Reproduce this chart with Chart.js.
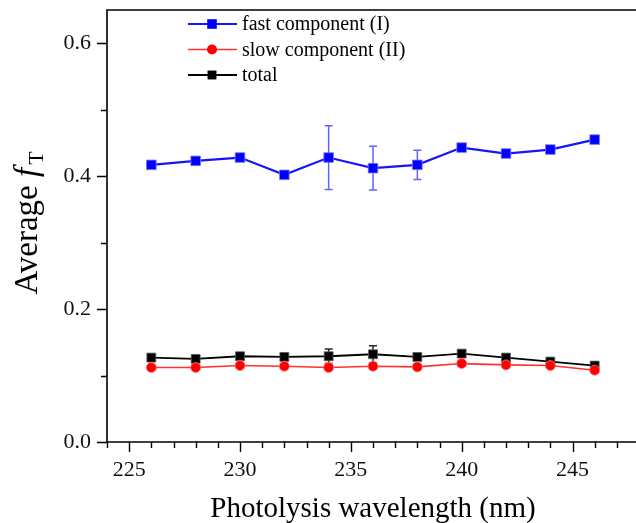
<!DOCTYPE html>
<html>
<head>
<meta charset="utf-8">
<script src="https://cdn.jsdelivr.net/npm/chart.js@4.4.1/dist/chart.umd.min.js"></script>
<style>
html, body { margin: 0; padding: 0; background: #fff; overflow: hidden; }
canvas { display: block; }
</style>
</head>
<body>
<canvas id="myChart" width="636" height="523"></canvas>
<script>
// values
const wavelength = [226, 228, 230, 232, 234, 236, 238, 240, 242, 244, 246];
const fastComp  = [0.417, 0.423, 0.428, 0.402, 0.428, 0.412, 0.417, 0.443, 0.434, 0.440, 0.455];
const fastErr   = [0, 0, 0, 0, 0.048, 0.033, 0.022, 0, 0, 0, 0];
const slowComp  = [0.112, 0.112, 0.115, 0.114, 0.112, 0.114, 0.113, 0.118, 0.116, 0.115, 0.108];
const totalComp = [0.127, 0.125, 0.129, 0.128, 0.129, 0.132, 0.128, 0.133, 0.127, 0.121, 0.115];
const totalErr  = [0, 0, 0, 0, 0.011, 0.013, 0, 0, 0, 0, 0];
const xTickLabels = [225, 230, 235, 240, 245];
const yTickLabels = [0.0, 0.2, 0.4, 0.6];

const serif = '"Liberation Serif", "Times New Roman", serif';

function pts(vals) {
    return wavelength.map((w, i) => ({x: w, y: vals[i]}));
}

const errorSets = [
    {values: fastComp, err: fastErr, color: 'rgba(70,70,255,0.85)'},
    {values: totalComp, err: totalErr, color: 'rgba(0,0,0,0.85)'}
];

// the source's plot frame ends just past the right edge of the picture
const plotRight = 639;

const decorations = {
    id: 'decorations',
    afterLayout(chart) {
        // stretch the x scale (and plot area) so its right end lies off-canvas
        const xs = chart.scales.x, area = chart.chartArea;
        xs.right = plotRight;
        xs.width = xs.right - xs.left;
        area.right = plotRight;
        area.width = area.right - area.left;
        xs.configure();
    },
    beforeDatasetsDraw(chart) {
        const ctx = chart.ctx, xs = chart.scales.x, ys = chart.scales.y;
        ctx.save();
        errorSets.forEach(s => {
            ctx.strokeStyle = s.color;
            ctx.lineWidth = 1.5;
            wavelength.forEach((w, i) => {
                if (!s.err[i]) return;
                const px = xs.getPixelForValue(w);
                const top = ys.getPixelForValue(s.values[i] + s.err[i]);
                const bot = ys.getPixelForValue(s.values[i] - s.err[i]);
                ctx.beginPath();
                ctx.moveTo(px, top); ctx.lineTo(px, bot);
                ctx.moveTo(px - 4, top); ctx.lineTo(px + 4, top);
                ctx.moveTo(px - 4, bot); ctx.lineTo(px + 4, bot);
                ctx.stroke();
            });
        });
        ctx.restore();
    },
    afterDraw(chart) {
        const ctx = chart.ctx, area = chart.chartArea;
        const xs = chart.scales.x, ys = chart.scales.y;
        ctx.save();
        // frame: top, left, bottom (right side is cropped off in the source)
        ctx.strokeStyle = '#000';
        ctx.lineWidth = 1.6;
        ctx.beginPath();
        ctx.moveTo(area.right + 2, area.top);
        ctx.lineTo(area.left, area.top);
        ctx.lineTo(area.left, area.bottom);
        ctx.lineTo(area.right + 2, area.bottom);
        ctx.stroke();

        // ticks, outward
        ctx.lineWidth = 1.4;
        ctx.beginPath();
        for (let v = 0; v <= ys.max + 1e-9; v += 0.1) {
            const py = Math.round(ys.getPixelForValue(v)) + 0.5;
            const major = Math.round(v * 10) % 2 === 0;
            ctx.moveTo(area.left, py); ctx.lineTo(area.left - (major ? 10 : 6), py);
        }
        for (let v = Math.ceil(xs.min); v <= xs.max; v++) {
            const px = Math.round(xs.getPixelForValue(v)) + 0.5;
            const major = v % 5 === 0;
            ctx.moveTo(px, area.bottom); ctx.lineTo(px, area.bottom + (major ? 10 : 6));
        }
        ctx.stroke();

        // x title
        ctx.fillStyle = '#000';
        ctx.font = '29px ' + serif;
        ctx.textAlign = 'center';
        ctx.textBaseline = 'alphabetic';
        ctx.fillText('Photolysis wavelength (nm)', (area.left + area.right) / 2, 517);

        // y title: Average f_T
        ctx.save();
        ctx.translate(37, 223);
        ctx.rotate(-Math.PI / 2);
        ctx.textAlign = 'left';
        const p1 = 'Average ';
        ctx.font = '33px ' + serif;
        const w1 = ctx.measureText(p1).width;
        ctx.font = 'italic 33px ' + serif;
        const w2 = ctx.measureText('f').width;
        ctx.font = '22px ' + serif;
        const w3 = ctx.measureText('T').width;
        let x0 = -(w1 + w2 + 3 + w3) / 2;
        ctx.font = '33px ' + serif;
        ctx.fillText(p1, x0, 0);
        ctx.font = 'italic 33px ' + serif;
        ctx.fillText('f', x0 + w1, 0);
        ctx.font = '22px ' + serif;
        ctx.fillText('T', x0 + w1 + w2 + 3, 6);
        ctx.restore();

        // legend with line + marker
        ctx.font = '20px ' + serif;
        ctx.textAlign = 'left';
        ctx.textBaseline = 'middle';
        chart.data.datasets.forEach((ds, i) => {
            const ly = 24 + i * 25.5;
            ctx.strokeStyle = ds.borderColor;
            ctx.lineWidth = ds.borderWidth;
            ctx.beginPath();
            ctx.moveTo(188, ly); ctx.lineTo(237, ly);
            ctx.stroke();
            ctx.fillStyle = ds.pointBackgroundColor;
            ctx.beginPath();
            if (ds.pointStyle === 'circle') {
                ctx.arc(212, ly, ds.pointRadius, 0, Math.PI * 2);
            } else {
                const h = ds.pointRadius * Math.SQRT1_2;
                ctx.rect(212 - h, ly - h, 2 * h, 2 * h);
            }
            ctx.fill();
            ctx.fillStyle = '#000';
            ctx.fillText(ds.label, 242, ly + 1);
        });
        ctx.restore();
    }
};

function noPad(scale) {
    scale.paddingTop = 0;
    scale.paddingBottom = 0;
    scale.paddingLeft = 0;
    scale.paddingRight = 0;
}

const ctx = document.getElementById('myChart').getContext('2d');

const myChart = new Chart(ctx, {
    type: 'line',
    data: {
        datasets: [{
            label: 'fast component (I)',
            data: pts(fastComp),
            borderColor: '#1414ff',
            backgroundColor: '#0000ff',
            pointBackgroundColor: '#0000ff',
            pointBorderColor: 'rgba(120,120,255,0.8)',
            pointBorderWidth: 1,
            borderWidth: 2.2,
            pointStyle: 'rect',
            pointRadius: 6.8
        }, {
            label: 'slow component (II)',
            data: pts(slowComp),
            borderColor: '#ff3030',
            backgroundColor: '#ff0000',
            pointBackgroundColor: '#ff0000',
            pointBorderColor: 'rgba(255,120,120,0.8)',
            pointBorderWidth: 1,
            borderWidth: 1.6,
            pointStyle: 'circle',
            pointRadius: 5
        }, {
            label: 'total',
            data: pts(totalComp),
            borderColor: '#000000',
            backgroundColor: '#000000',
            pointBackgroundColor: '#000000',
            pointBorderColor: 'rgba(90,90,90,0.8)',
            pointBorderWidth: 1,
            borderWidth: 1.8,
            pointStyle: 'rect',
            pointRadius: 6.3
        }]
    },
    options: {
        responsive: false,
        animation: false,
        layout: {padding: {top: 10, right: 0, left: 0, bottom: 0}},
        plugins: {legend: {display: false}, tooltip: {enabled: false}},
        scales: {
            x: {
                type: 'linear',
                min: 224,
                max: 248,
                afterFit(scale) { scale.height = 81; noPad(scale); },
                grid: {display: false, drawTicks: false},
                border: {display: false},
                afterBuildTicks(scale) { scale.ticks = xTickLabels.map(v => ({value: v})); },
                ticks: {
                    padding: 15,
                    color: '#111',
                    font: {family: serif, size: 22},
                    maxRotation: 0,
                    callback: v => String(v)
                }
            },
            y: {
                min: 0,
                max: 0.65,
                afterFit(scale) { scale.width = 107; noPad(scale); },
                grid: {display: false, drawTicks: false},
                border: {display: false},
                afterBuildTicks(scale) { scale.ticks = yTickLabels.map(v => ({value: v})); },
                ticks: {
                    padding: 16,
                    color: '#111',
                    font: {family: serif, size: 22},
                    callback: v => v.toFixed(1)
                }
            }
        }
    },
    plugins: [decorations]
});
</script>
</body>
</html>
